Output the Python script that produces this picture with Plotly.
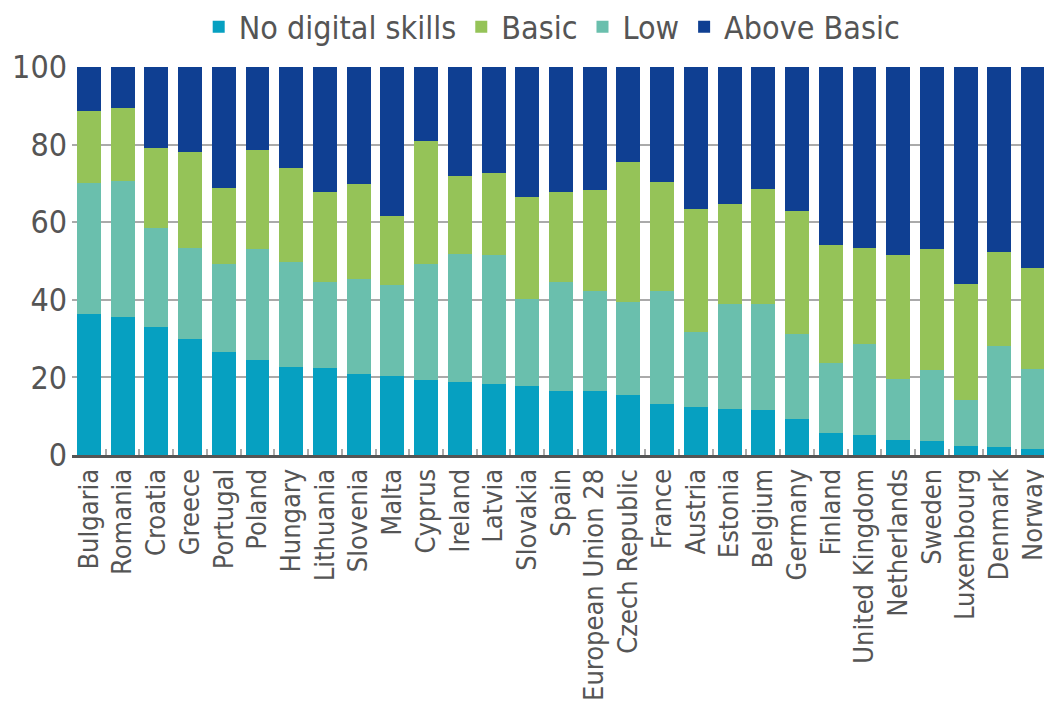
import plotly.graph_objects as go

countries = ["Bulgaria", "Romania", "Croatia", "Greece", "Portugal", "Poland", "Hungary",
             "Lithuania", "Slovenia", "Malta", "Cyprus", "Ireland", "Latvia", "Slovakia",
             "Spain", "European Union 28", "Czech Republic", "France", "Austria", "Estonia",
             "Belgium", "Germany", "Finland", "United Kingdom", "Netherlands", "Sweden",
             "Luxembourg", "Denmark", "Norway"]

no_skills = [36.3, 35.6, 32.9, 30.0, 26.5, 24.4, 22.6, 22.5, 20.9, 20.3, 19.4, 18.7, 18.4, 17.8,
             16.6, 16.6, 15.4, 13.1, 12.5, 11.8, 11.7, 9.3, 5.8, 5.1, 3.9, 3.7, 2.2, 2.1, 1.6]
low = [33.7, 34.9, 25.7, 23.3, 22.7, 28.6, 27.2, 22.1, 24.5, 23.4, 29.7, 33.2, 33.1, 22.5,
       28.1, 25.6, 24.1, 29.1, 19.3, 27.2, 27.2, 21.8, 17.9, 23.6, 15.8, 18.3, 11.9, 25.9, 20.5]
basic = [18.7, 19.0, 20.5, 24.7, 19.7, 25.6, 24.1, 23.1, 24.4, 18.0, 31.9, 20.0, 21.3, 26.3,
         23.2, 26.2, 36.1, 28.1, 31.6, 25.8, 29.7, 31.7, 30.5, 24.7, 31.9, 31.1, 30.1, 24.3, 26.1]
above = [11.3, 10.5, 20.9, 22.0, 31.1, 21.4, 26.1, 32.3, 30.2, 38.3, 19.0, 28.1, 27.2, 33.4,
         32.1, 31.6, 24.4, 29.7, 36.6, 35.2, 31.4, 37.2, 45.8, 46.6, 48.4, 46.9, 55.8, 47.7, 51.8]

y_ticks = [0, 20, 40, 60, 80, 100]

C_NO = "#06a0c1"
C_LOW = "#6abfad"
C_BASIC = "#95c358"
C_ABOVE = "#0f3f92"

FONT = "DejaVu Sans Condensed"
TXT = "#555555"

fig = go.Figure()
fig.add_trace(go.Bar(x=countries, y=no_skills, name="No digital skills", marker_color=C_NO,
                     marker_line_width=0, legendrank=1))
fig.add_trace(go.Bar(x=countries, y=low, name="Low", marker_color=C_LOW,
                     marker_line_width=0, legendrank=3))
fig.add_trace(go.Bar(x=countries, y=basic, name="Basic", marker_color=C_BASIC,
                     marker_line_width=0, legendrank=2))
fig.add_trace(go.Bar(x=countries, y=above, name="Above Basic", marker_color=C_ABOVE,
                     marker_line_width=0, legendrank=4))

fig.update_layout(
    barmode="stack",
    bargap=0.29,
    width=1044, height=698,
    margin=dict(l=64, r=2, t=59, b=251, autoexpand=False),
    paper_bgcolor="white", plot_bgcolor="white",
    font=dict(family=FONT, color=TXT),
    legend=dict(orientation="h", x=0.491, xanchor="center", y=1.103, yanchor="middle",
                font=dict(size=32, family=FONT, color=TXT), traceorder="normal",
                tracegroupgap=0),
    xaxis=dict(tickangle=-90, tickfont=dict(size=27, family=FONT, color=TXT),
               showgrid=False, showline=True, linecolor="#555555", linewidth=3,
               ticks="inside", tickson="boundaries", ticklen=6, tickcolor="#aaaaaa",
               tickwidth=2, range=[-0.5, len(countries) - 0.5]),
    yaxis=dict(range=[0, 100], tickvals=y_ticks, tickfont=dict(size=32, family=FONT, color=TXT),
               showgrid=True, gridcolor="#aaaaaa", gridwidth=2, zeroline=False,
               showline=False, ticks="", ticklabelstandoff=4),
)

fig.write_html("out.html")
